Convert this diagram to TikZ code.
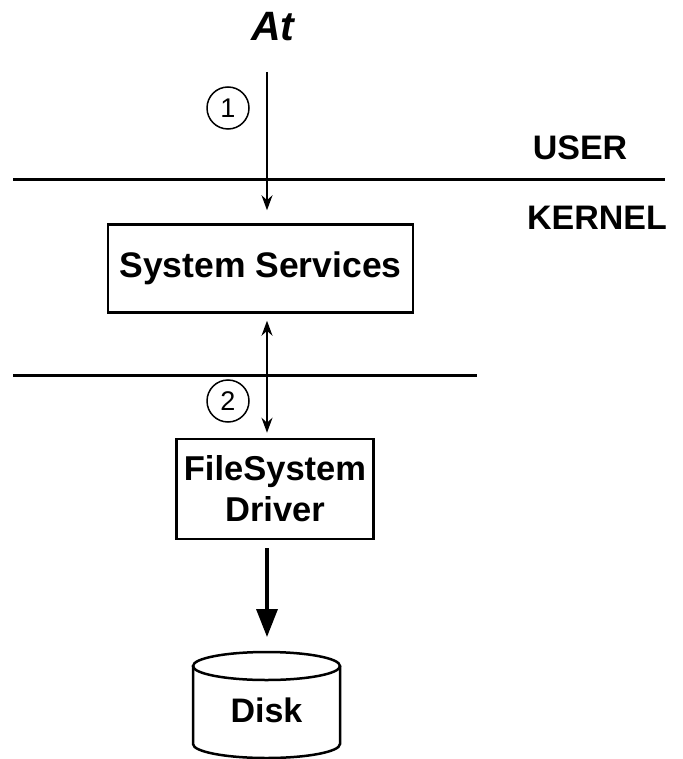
\documentclass[tikz,border=0pt]{standalone}
\usepackage{fontspec}
\setmainfont{Liberation Sans}
\usetikzlibrary{arrows.meta}
\begin{document}
\begin{tikzpicture}[x=1pt,y=1pt,
 box/.style={draw, line width=2.5pt, font=\fontsize{34.5}{41}\selectfont\bfseries, align=center, inner sep=0pt},
 lbl/.style={font=\fontsize{34}{38}\selectfont\bfseries, inner sep=0pt},
 num/.style={draw, circle, line width=1.5pt, minimum size=42pt, inner sep=0pt, font=\fontsize{27}{30}\selectfont},
 thinarrow/.style={line width=1.5pt, -{Stealth[length=15pt,width=11pt]}},
 dblarrow/.style={line width=1.5pt, {Stealth[length=15pt,width=11pt]}-{Stealth[length=15pt,width=11pt]}},
 thickarrow/.style={line width=3.5pt, -{Triangle[length=28pt,width=21pt]}},
 divider/.style={line width=3pt},
]
\useasboundingbox (0,0) rectangle (682,-759);
% labels
\node[font=\fontsize{41}{44}\selectfont\bfseries\itshape, inner sep=0pt] (at) at (273,-27) {At};
\node[lbl] (user) at (580,-148) {USER};
\node[lbl] (kernel) at (597,-218) {KERNEL};
% dividers
\coordinate (d1a) at (13,-180); \coordinate (d1b) at (665,-180);
\coordinate (d2a) at (13,-375); \coordinate (d2b) at (477,-375);
\draw[divider] (d1a) -- (d1b);
\draw[divider] (d2a) -- (d2b);
% boxes
\node[box, minimum width=305pt, minimum height=88pt, font=\fontsize{35.5}{41}\selectfont\bfseries] (ss) at (260.5,-268.5) {System Services};
\node[box, minimum width=197pt, minimum height=100pt] (drv) at (275,-489) {FileSystem\\Driver};
% circled numbers
\node[num] (n1) at (228,-108) {1};
\node[num] (n2) at (228,-401) {2};
% arrows
\coordinate (a1s) at (267,-72);
\draw[thinarrow, shorten >=13pt] (a1s) -- (ss.north -| a1s);
\draw[dblarrow, shorten <=7pt, shorten >=5pt] (ss.south -| a1s) -- (drv.north -| a1s);
\coordinate (disktop) at (267,-652);
\draw[thickarrow, shorten <=8pt, shorten >=15pt] (drv.south -| a1s) -- (disktop);
% disk
\draw[line width=2.5pt] (193,-666) -- (193,-744) arc[start angle=180, end angle=360, x radius=73.5, y radius=14] -- (340,-666);
\draw[line width=2.5pt] (266.5,-666) ellipse[x radius=73.5, y radius=14];
\node[lbl] (disk) at (266.5,-710) {Disk};
\end{tikzpicture}
\end{document}
